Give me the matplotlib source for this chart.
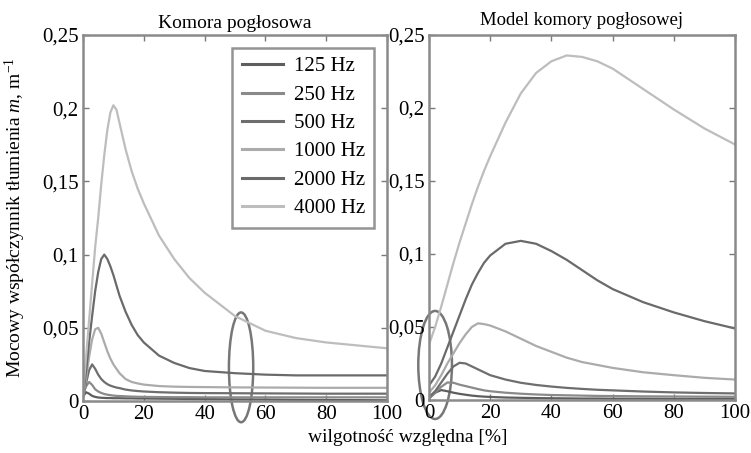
import numpy as np
import matplotlib
matplotlib.use("Agg")
import matplotlib.pyplot as plt
from matplotlib.patches import Ellipse

plt.rcParams['font.family'] = ['Liberation Serif', 'DejaVu Serif']
plt.rcParams['mathtext.fontset'] = 'custom'
plt.rcParams['mathtext.rm'] = 'Liberation Serif'
plt.rcParams['mathtext.it'] = 'Liberation Serif:italic'

labels = ['125 Hz', '250 Hz', '500 Hz', '1000 Hz', '2000 Hz', '4000 Hz']
colors = ['#5e5e5e', '#8a8a8a', '#6e6e6e', '#ababab', '#6a6a6a', '#bdbdbd']

# reverberation chamber (measured)
x_meas = [0, 1, 2, 3, 4, 5, 6, 7, 8, 9, 10, 11, 12, 14, 16, 18, 20, 25, 30, 35, 40, 50, 60, 70, 80, 90, 100]
m125 = [0.003, 0.006, 0.005, 0.0035, 0.0028, 0.0024, 0.0022, 0.0021, 0.002, 0.002, 0.0019, 0.0019, 0.0019,
        0.0018, 0.0018, 0.0017, 0.0017, 0.0016, 0.0015, 0.0014, 0.0013, 0.0011, 0.001, 0.0008, 0.0007, 0.0006, 0.0005]
m250 = [0.004, 0.01, 0.013, 0.011, 0.008, 0.0065, 0.0055, 0.0048, 0.0043, 0.004, 0.0037, 0.0035, 0.0034,
        0.0032, 0.003, 0.0029, 0.0028, 0.0027, 0.0026, 0.0026, 0.0025, 0.0025, 0.0025, 0.0025, 0.0025, 0.0025, 0.0025]
m500 = [0.003, 0.012, 0.021, 0.025, 0.022, 0.018, 0.015, 0.013, 0.0115, 0.0105, 0.0098, 0.0092, 0.0088,
        0.0078, 0.0072, 0.0068, 0.0065, 0.006, 0.0057, 0.0055, 0.0054, 0.0053, 0.0052, 0.0051, 0.005, 0.005, 0.005]
m1000 = [0.003, 0.015, 0.03, 0.042, 0.049, 0.05, 0.046, 0.04, 0.034, 0.029, 0.025, 0.022, 0.019,
         0.015, 0.013, 0.012, 0.0112, 0.0102, 0.0098, 0.0096, 0.0095, 0.0093, 0.0092, 0.0091, 0.009, 0.009, 0.009]
m2000 = [0.004, 0.02, 0.04, 0.058, 0.075, 0.088, 0.097, 0.1, 0.097, 0.092, 0.086, 0.079, 0.072,
         0.061, 0.052, 0.045, 0.04, 0.031, 0.026, 0.0225, 0.0205, 0.019, 0.018, 0.0175, 0.0175, 0.0175, 0.0175]
m4000 = [0.005, 0.03, 0.055, 0.08, 0.105, 0.125, 0.148, 0.168, 0.185, 0.197, 0.202, 0.199, 0.19,
         0.172, 0.157, 0.145, 0.135, 0.113, 0.097, 0.084, 0.074, 0.058, 0.048, 0.043, 0.04, 0.038, 0.036]

# chamber model
x_model = [0, 2, 4, 6, 8, 10, 12, 14, 16, 18, 20, 25, 30, 35, 40, 45, 50, 55, 60, 70, 80, 90, 100]
s125 = [0.001, 0.005, 0.0068, 0.006, 0.005, 0.0042, 0.0036, 0.003, 0.0026, 0.0023, 0.0021, 0.0017,
        0.0015, 0.0013, 0.0012, 0.0011, 0.001, 0.001, 0.0009, 0.0009, 0.0008, 0.0008, 0.0008]
s250 = [0.001, 0.005, 0.009, 0.012, 0.0118, 0.0105, 0.0095, 0.0085, 0.0075, 0.0066, 0.006, 0.005,
        0.0043, 0.0038, 0.0034, 0.0032, 0.003, 0.0028, 0.0027, 0.0025, 0.0024, 0.0023, 0.0022]
s500 = [0.002, 0.006, 0.012, 0.018, 0.023, 0.0255, 0.025, 0.023, 0.021, 0.019, 0.017, 0.014,
        0.0118, 0.0103, 0.0092, 0.0083, 0.0076, 0.007, 0.0066, 0.0058, 0.0052, 0.0048, 0.0045]
s1000 = [0.005, 0.01, 0.017, 0.025, 0.032, 0.039, 0.045, 0.05, 0.0525, 0.052, 0.051, 0.047,
         0.042, 0.037, 0.033, 0.029, 0.026, 0.024, 0.022, 0.019, 0.017, 0.0152, 0.014]
s2000 = [0.01, 0.016, 0.025, 0.036, 0.047, 0.058, 0.069, 0.079, 0.087, 0.094, 0.099, 0.107,
         0.109, 0.107, 0.102, 0.096, 0.089, 0.082, 0.076, 0.067, 0.06, 0.054, 0.049]
s4000 = [0.038, 0.05, 0.064, 0.079, 0.094, 0.108, 0.121, 0.134, 0.146, 0.157, 0.167, 0.19,
         0.21, 0.224, 0.232, 0.236, 0.235, 0.232, 0.227, 0.213, 0.199, 0.186, 0.175]

meas = [m125, m250, m500, m1000, m2000, m4000]
model = [s125, s250, s500, s1000, s2000, s4000]

yticks = [0, 0.05, 0.1, 0.15, 0.2, 0.25]
ytick_labels = ['0', '0,05', '0,1', '0,15', '0,2', '0,25']
xticks = [0, 20, 40, 60, 80, 100]

fig = plt.figure(figsize=(7.51, 4.53), dpi=100)
ax1 = fig.add_axes([83 / 751, 52 / 453, 304 / 751, 366 / 453])
ax2 = fig.add_axes([429 / 751, 53 / 453, 306 / 751, 365 / 453])

for ax, x, series in ((ax1, x_meas, meas), (ax2, x_model, model)):
    for vals, c, lab in zip(series, colors, labels):
        ax.plot(x, vals, color=c, lw=1.6, label=lab)
    ax.set_xlim(0, 100)
    ax.set_ylim(0, 0.25)
    ax.set_xticks(xticks)
    ax.set_yticks(yticks)
    ax.set_yticklabels(ytick_labels)
    ax.tick_params(direction='in', top=True, right=True, length=4, width=1,
                   color='#7a7a7a', labelsize=15, pad=3)
    for sp in ax.spines.values():
        sp.set_color('#8a8a8a')
        sp.set_linewidth(1.8)

ax1.set_title('Komora pogłosowa', fontsize=14, pad=5)
ax2.set_title('Model komory pogłosowej', fontsize=13.5, pad=7)
ax1.set_ylabel(r'Mocowy współczynnik tłumienia $m$, m$^{-1}$', fontsize=14, labelpad=10)
fig.text(408 / 751, 1 - 438 / 453, 'wilgotność względna [%]', ha='center', va='center', fontsize=14)

leg = ax1.legend(loc='upper right', fontsize=15, frameon=True, fancybox=False,
                 borderaxespad=0.6, handlelength=2.0, labelspacing=0.42,
                 handletextpad=0.5, borderpad=0.45)
leg.get_frame().set_edgecolor('#7a7a7a')
leg.get_frame().set_linewidth(1.8)
for h in leg.get_lines():
    h.set_linewidth(2.2)

# highlighted regions
ax1.add_patch(Ellipse((52, 0.023), 8, 0.075, fill=False, ec='#777777', lw=1.8, clip_on=False))
ax2.add_patch(Ellipse((2, 0.024), 11, 0.074, fill=False, ec='#777777', lw=1.8, clip_on=False))

fig.savefig('out.png', dpi=100)
